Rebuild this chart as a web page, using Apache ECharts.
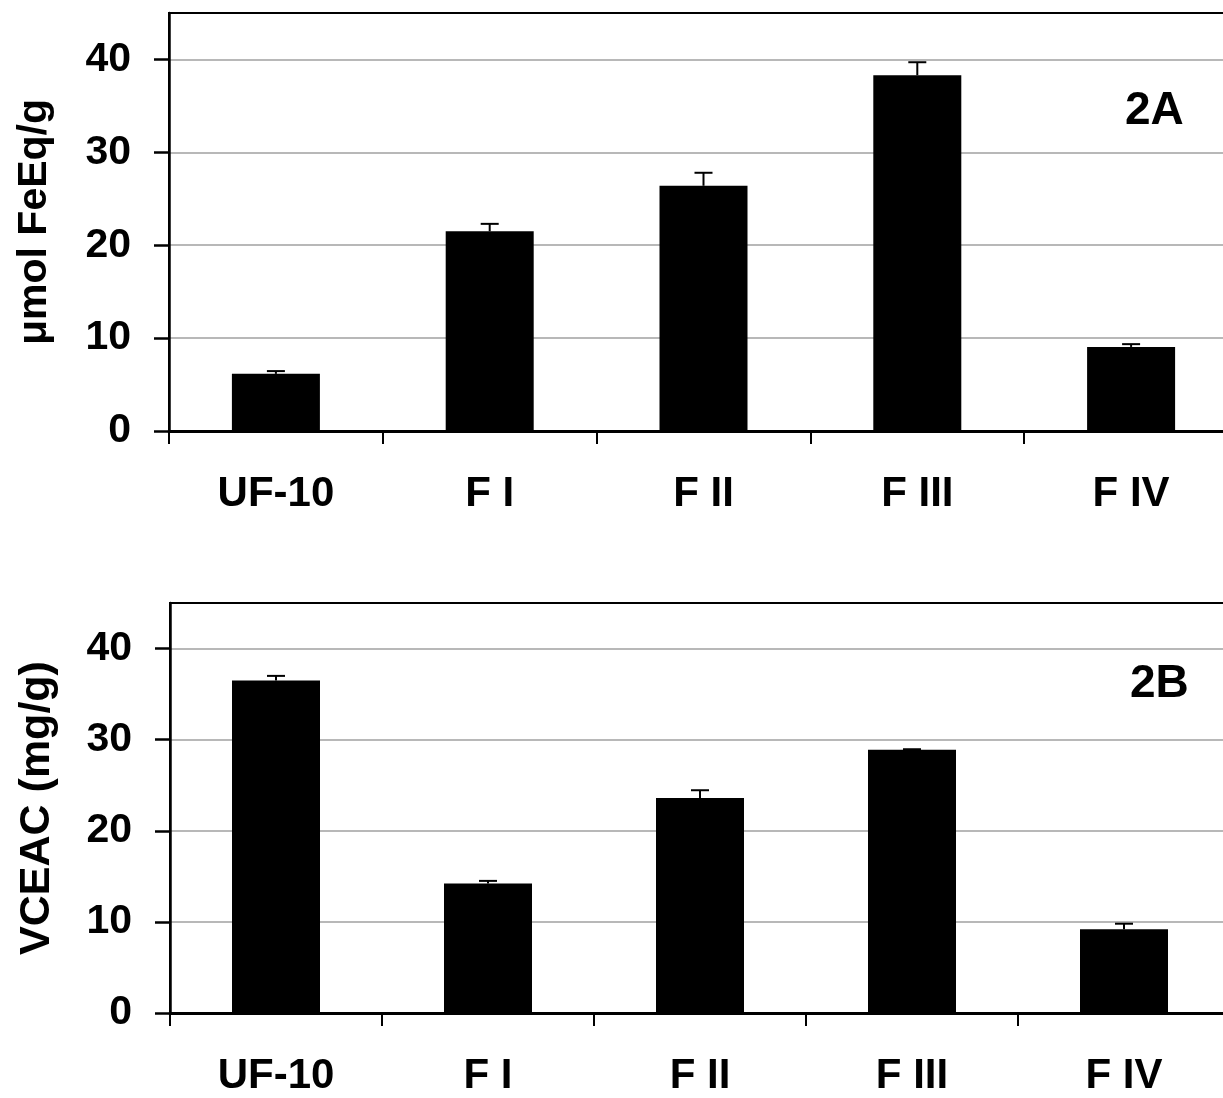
<!DOCTYPE html>
<html>
<head>
<meta charset="utf-8">
<script src="https://cdn.jsdelivr.net/npm/echarts@6/dist/echarts.min.js"></script>
<style>
html,body{margin:0;padding:0;background:#fff;}
#chart{width:1223px;height:1098px;}
</style>
</head>
<body>
<div id="chart"></div>
<script>
const categories = ['UF-10', 'F I', 'F II', 'F III', 'F IV'];
const frapValues = [6.15, 21.5, 26.4, 38.3, 9.05];
const frapErrors = [0.3, 0.8, 1.4, 1.4, 0.3];
const vceacValues = [36.5, 14.2, 23.6, 28.9, 9.2];
const vceacErrors = [0.5, 0.3, 0.85, 0.05, 0.6];
const yTickValues = [0, 10, 20, 30, 40];
const panelLabels = ['2A', '2B'];
const yNames = ['\u03bcmol FeEq/g', 'VCEAC (mg/g)'];

const FONT = '"Liberation Sans", Arial, Helvetica, sans-serif';
const chart = echarts.init(document.getElementById('chart'), null, {renderer: 'canvas'});

function errRender(params, api) {
  const x = api.value(0);
  const v = api.value(1);
  const e = api.value(2);
  const p0 = api.coord([x, v]);
  const p1 = api.coord([x, v + e]);
  const half = 9;
  const style = {stroke: '#000', lineWidth: 2};
  return {
    type: 'group',
    children: [
      {type: 'line', shape: {x1: p0[0], y1: p0[1], x2: p1[0], y2: p1[1]}, style: style},
      {type: 'line', shape: {x1: p1[0] - half, y1: p1[1], x2: p1[0] + half, y2: p1[1]}, style: style}
    ]
  };
}

function xAxisCfg(gridIndex) {
  return {
    type: 'category', gridIndex: gridIndex, data: categories,
    axisLine: {show: true, lineStyle: {color: '#000', width: 3}},
    axisTick: {show: true, length: 13, lineStyle: {color: '#000', width: 2}},
    axisLabel: {color: '#000', fontFamily: FONT, fontWeight: 'bold', fontSize: 42, margin: 42},
    splitLine: {show: false}
  };
}
function yAxisCfg(gridIndex, name, nameSize, nameGap) {
  return {
    type: 'value', gridIndex: gridIndex, min: 0, max: 45, interval: 10,
    name: name, nameLocation: 'middle', nameGap: nameGap,
    nameTextStyle: {color: '#000', fontFamily: FONT, fontWeight: 'bold', fontSize: nameSize},
    axisLine: {show: true, lineStyle: {color: '#000', width: 2.5}},
    axisTick: {show: true, length: 15, customValues: yTickValues, lineStyle: {color: '#000', width: 2.5}},
    axisLabel: {color: '#000', fontFamily: FONT, fontWeight: 'bold', fontSize: 41, margin: 38, customValues: yTickValues},
    splitLine: {show: true, lineStyle: {color: '#a0a0a0', width: 1.5}}
  };
}

chart.setOption({
  backgroundColor: '#fff',
  animation: false,
  title: [
    {text: panelLabels[0], left: 1120, top: 83, textStyle: {color: '#000', fontFamily: FONT, fontWeight: 'bold', fontSize: 46}},
    {text: panelLabels[1], left: 1125, top: 656, textStyle: {color: '#000', fontFamily: FONT, fontWeight: 'bold', fontSize: 46}}
  ],
  grid: [
    {left: 169, top: 13, width: 1069, height: 418, outerBoundsMode: 'none', containLabel: false,
     show: true, borderColor: '#000', borderWidth: 2, backgroundColor: 'transparent'},
    {left: 170, top: 603, width: 1060, height: 410, outerBoundsMode: 'none', containLabel: false,
     show: true, borderColor: '#000', borderWidth: 2, backgroundColor: 'transparent'}
  ],
  xAxis: [xAxisCfg(0), xAxisCfg(1)],
  yAxis: [yAxisCfg(0, yNames[0], 41, 114), yAxisCfg(1, yNames[1], 43, 111)],
  series: [
    {type: 'bar', xAxisIndex: 0, yAxisIndex: 0, data: frapValues, barWidth: 88, itemStyle: {color: '#000'}},
    {type: 'custom', xAxisIndex: 0, yAxisIndex: 0, renderItem: errRender, z: 5,
     data: frapValues.map((v, i) => [i, v, frapErrors[i]])},
    {type: 'bar', xAxisIndex: 1, yAxisIndex: 1, data: vceacValues, barWidth: 88, itemStyle: {color: '#000'}},
    {type: 'custom', xAxisIndex: 1, yAxisIndex: 1, renderItem: errRender, z: 5,
     data: vceacValues.map((v, i) => [i, v, vceacErrors[i]])}
  ]
});
</script>
</body>
</html>
